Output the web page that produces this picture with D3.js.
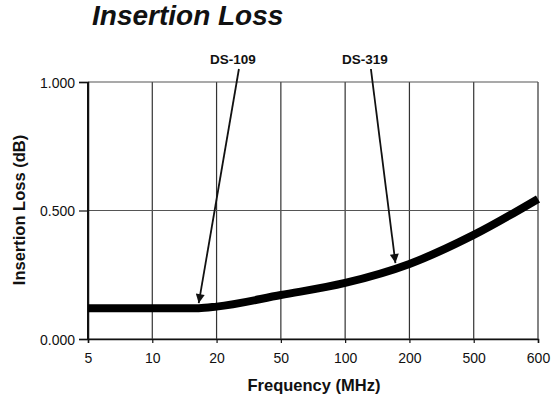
<!DOCTYPE html>
<html>
<head>
<meta charset="utf-8">
<script src="https://cdn.jsdelivr.net/npm/d3@7"></script>
<style>
  body { margin: 0; background: #fff; }
  text { font-family: "Liberation Sans", Arial, sans-serif; fill: #111; }
</style>
</head>
<body>
<div id="root"></div>
<script>
const root = d3.select("#root");

const width = 552;
const height = 400;
const margin = { top: 82, right: 14, bottom: 61, left: 88 };
const innerWidth = width - margin.left - margin.right;
const innerHeight = height - margin.top - margin.bottom;

// tick labels on the frequency axis (evenly spaced on the original)
const freqTicks = [5, 10, 20, 50, 100, 200, 500, 600];
const lossTicks = [0, 0.5, 1];

// curve
const freqs = [5, 10, 16.5, 20, 50, 100, 200, 500, 600];
const loss = [0.12, 0.12, 0.12, 0.126, 0.171, 0.218, 0.292, 0.405, 0.545];

// arrow callouts
const labels = ["DS-109", "DS-319"];
const labelFreqs = [16.5, 172];
const labelAnchorFreqs = [27.5, 132];

// piecewise log scale so every labelled tick is evenly spaced
const xScale = d3
  .scaleLog()
  .domain(freqTicks)
  .range(freqTicks.map((d, i) => (i * innerWidth) / (freqTicks.length - 1)));
const yScale = d3.scaleLinear().domain([0, 1]).range([innerHeight, 0]);

const svg = root
  .append("svg")
  .attr("width", width)
  .attr("height", height)
  .attr("viewBox", `0 0 ${width} ${height}`);

svg
  .append("defs")
  .append("marker")
  .attr("id", "head")
  .attr("viewBox", "0 0 10 10")
  .attr("refX", 10)
  .attr("refY", 5)
  .attr("markerWidth", 13)
  .attr("markerHeight", 9)
  .attr("markerUnits", "userSpaceOnUse")
  .attr("orient", "auto")
  .append("path")
  .attr("d", "M0,0 L10,5 L0,10 Z")
  .attr("fill", "#111");

svg
  .append("text")
  .text("Insertion Loss")
  .attr("x", 92)
  .attr("y", 25)
  .style("font-size", "28px")
  .style("font-weight", 700)
  .style("font-style", "italic");

const innerChart = svg
  .append("g")
  .attr("transform", `translate(${margin.left}, ${margin.top})`);

// grid
innerChart
  .selectAll(".vgrid")
  .data(freqTicks)
  .join("line")
  .attr("class", "vgrid")
  .attr("x1", (d) => xScale(d))
  .attr("x2", (d) => xScale(d))
  .attr("y1", 0)
  .attr("y2", innerHeight)
  .attr("stroke", "#333")
  .attr("stroke-width", 1.2);

innerChart
  .selectAll(".hgrid")
  .data(lossTicks)
  .join("line")
  .attr("class", "hgrid")
  .attr("x1", 0)
  .attr("x2", innerWidth)
  .attr("y1", (d) => yScale(d))
  .attr("y2", (d) => yScale(d))
  .attr("stroke", "#555")
  .attr("stroke-width", 1.2);

innerChart
  .append("line")
  .attr("x1", 0)
  .attr("x2", 0)
  .attr("y1", 0)
  .attr("y2", innerHeight)
  .attr("stroke", "#111")
  .attr("stroke-width", 2);

// axes
const bottomAxis = d3
  .axisBottom(xScale)
  .tickValues(freqTicks)
  .tickFormat(d3.format("d"))
  .tickSize(4)
  .tickPadding(10);
const xAxisG = innerChart
  .append("g")
  .attr("transform", `translate(0, ${innerHeight})`)
  .call(bottomAxis);

const leftAxis = d3
  .axisLeft(yScale)
  .tickValues(lossTicks)
  .tickFormat(d3.format(".3f"))
  .tickSize(9)
  .tickPadding(4);
const yAxisG = innerChart.append("g").call(leftAxis);

[xAxisG, yAxisG].forEach((g) => {
  g.attr("font-family", '"Liberation Sans", Arial, sans-serif').attr("font-size", 14);
  g.select(".domain").attr("stroke", "#111").attr("stroke-width", 1.5);
  g.selectAll(".tick line").attr("stroke", "#111").attr("stroke-width", 1.2);
  g.selectAll("text").attr("fill", "#222").style("font-size", "14px");
});
xAxisG.selectAll(".tick text").attr("dy", null).attr("dominant-baseline", "hanging");
yAxisG.selectAll(".tick text").attr("dy", null).attr("dominant-baseline", "central");

// curve
const points = freqs.map((f, i) => ({ f, v: loss[i] }));
const lineGenerator = d3
  .line()
  .x((d) => xScale(d.f))
  .y((d) => yScale(d.v))
  .curve(d3.curveMonotoneX);

innerChart
  .append("path")
  .datum(points)
  .attr("d", lineGenerator)
  .attr("fill", "none")
  .attr("stroke", "#000")
  .attr("stroke-width", 8);

// callouts
const valueAt = (f) => {
  const i = d3.bisector((d) => d).left(freqs, f);
  const a = Math.max(0, i - 1);
  const b = Math.min(freqs.length - 1, i);
  if (a === b) return loss[a];
  const t = (xScale(f) - xScale(freqs[a])) / (xScale(freqs[b]) - xScale(freqs[a]));
  return loss[a] + t * (loss[b] - loss[a]);
};

labels.forEach((label, i) => {
  const lx = xScale(labelAnchorFreqs[i]);
  innerChart
    .append("text")
    .text(label)
    .attr("x", lx - 6)
    .attr("y", -18)
    .attr("text-anchor", "middle")
    .style("font-size", "13.5px")
    .style("font-weight", 700);

  innerChart
    .append("line")
    .attr("x1", lx)
    .attr("y1", -13)
    .attr("x2", xScale(labelFreqs[i]))
    .attr("y2", yScale(valueAt(labelFreqs[i])) - 5)
    .attr("stroke", "#111")
    .attr("stroke-width", 1.8)
    .attr("marker-end", "url(#head)");
});

// axis titles
svg
  .append("text")
  .text("Frequency (MHz)")
  .attr("x", 314)
  .attr("y", 391)
  .attr("text-anchor", "middle")
  .style("font-size", "16.5px")
  .style("font-weight", 700);

svg
  .append("text")
  .text("Insertion Loss (dB)")
  .attr("transform", `translate(25, 210) rotate(-90)`)
  .attr("text-anchor", "middle")
  .style("font-size", "16.5px")
  .style("font-weight", 700);
</script>
</body>
</html>
